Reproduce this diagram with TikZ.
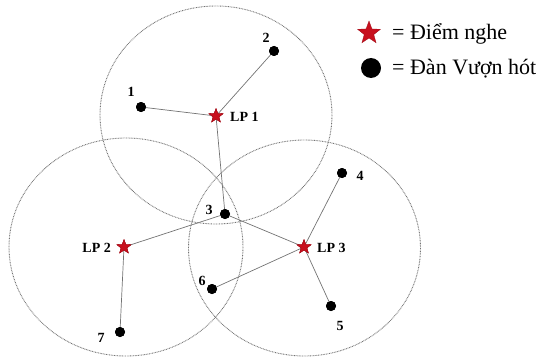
\documentclass[tikz,border=0pt]{standalone}
\usepackage{fontspec}
\setmainfont{Liberation Serif}
\usetikzlibrary{shapes.geometric}
\definecolor{starred}{RGB}{200,16,30}
\tikzset{
  x=1pt, y=-1pt,
  lp/.style={star, star points=5, star point ratio=2.4, fill=starred, draw=starred!80!black, line width=0.3pt, inner sep=0pt, minimum size=15pt},
  bird/.style={circle, fill=black, inner sep=0pt, minimum size=10pt},
  num/.style={font=\bfseries\fontsize{14}{14}\selectfont, inner sep=0pt},
  lplab/.style={font=\bfseries\fontsize{14}{14}\selectfont, inner sep=0pt},
  link/.style={draw=black!55, line width=0.7pt},
  zone/.style={draw=black!55, line width=0.9pt, dash pattern=on 0.8pt off 0.8pt},
  legtext/.style={font=\fontsize{22}{22}\selectfont, anchor=west, inner sep=0pt}
}
\begin{document}
\begin{tikzpicture}
\useasboundingbox (0,0) rectangle (543,361);
% range ellipses
\draw[zone] (216,115) ellipse [x radius=116, y radius=109];
\draw[zone] (126,247) ellipse [x radius=117, y radius=109];
\draw[zone] (304.5,248) ellipse [x radius=116, y radius=108];
% listening posts
\node[lp] (lp1) at (216,116) {};
\node[lp] (lp2) at (124,247) {};
\node[lp] (lp3) at (304,247) {};
% birds
\node[bird] (b1) at (141,107) {};
\node[bird] (b2) at (274,51) {};
\node[bird] (b3) at (225,214) {};
\node[bird] (b4) at (342,173) {};
\node[bird] (b5) at (331,306) {};
\node[bird] (b6) at (212,289) {};
\node[bird] (b7) at (120,332) {};
% links
\path[link] (b1.center) -- (lp1.center);
\path[link] (b2.center) -- (lp1.center);
\path[link] (lp1.center) -- (b3.center);
\path[link] (lp2.center) -- (b3.center);
\path[link] (lp3.center) -- (b3.center);
\path[link] (lp3.center) -- (b4.center);
\path[link] (lp3.center) -- (b5.center);
\path[link] (lp3.center) -- (b6.center);
\path[link] (lp2.center) -- (b7.center);
% redraw markers on top
\node[lp] at (lp1) {};
\node[lp] at (lp2) {};
\node[lp] at (lp3) {};
\node[bird] at (b1) {};
\node[bird] at (b2) {};
\node[bird] at (b3) {};
\node[bird] at (b4) {};
\node[bird] at (b5) {};
\node[bird] at (b6) {};
\node[bird] at (b7) {};
% labels
\node[num] (n1) at (131,92) {1};
\node[num] (n2) at (266,38) {2};
\node[num] (n3) at (209,210) {3};
\node[num] (n4) at (360,176) {4};
\node[num] (n5) at (340,326) {5};
\node[num] (n6) at (202,281) {6};
\node[num] (n7) at (101,338) {7};
\node[lplab, anchor=west] (l1) at (230,117) {LP 1};
\node[lplab, anchor=east] (l2) at (111,248) {LP 2};
\node[lplab, anchor=west] (l3) at (317,248) {LP 3};
% legend
\node[lp, minimum size=24pt] (kstar) at (369,33) {};
\node[bird, minimum size=20pt] (kdot) at (371,68) {};
\node[legtext] (t1) at (392,34) {= Điểm nghe};
\node[legtext] (t2) at (392,69) {= Đàn Vượn hót};
\end{tikzpicture}
\end{document}
